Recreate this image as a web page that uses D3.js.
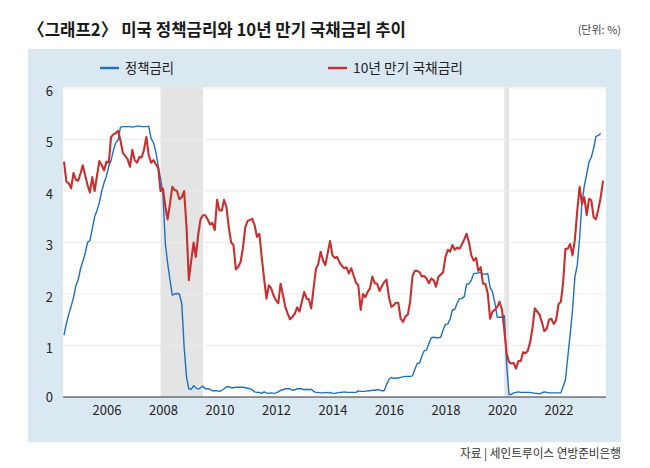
<!DOCTYPE html>
<html>
<head>
<meta charset="utf-8">
<script src="https://cdn.jsdelivr.net/npm/d3@7"></script>
<style>
  body { margin: 0; background: #fff; }
  text { font-family: "Noto Sans CJK KR", "Noto Sans", sans-serif; }
</style>
</head>
<body>
<script>
var width = 650,
    height = 468;

// monthly data, first month = July 2004
var startMonth = "2004-07-01";

// 정책금리 (Jul 2004 - Jul 2023)
var policyRate = [
  1.20, 1.43, 1.61, 1.76, 1.93, 2.16,
  2.28, 2.50, 2.63, 2.79, 3.00, 3.04, 3.26, 3.50, 3.62, 3.78, 4.00, 4.16,
  4.29, 4.49, 4.59, 4.79, 4.94, 4.99, 5.24, 5.25, 5.25, 5.25, 5.25, 5.24,
  5.25, 5.26, 5.26, 5.25, 5.25, 5.25, 5.26, 5.02, 4.94, 4.76, 4.49, 4.24,
  3.94, 2.98, 2.61, 2.28, 1.98, 2.00, 2.01, 2.00, 1.81, 0.97, 0.39, 0.16,
  0.15, 0.22, 0.18, 0.15, 0.18, 0.21, 0.16, 0.16, 0.15, 0.12, 0.12, 0.12,
  0.11, 0.13, 0.16, 0.20, 0.20, 0.18, 0.18, 0.19, 0.19, 0.19, 0.19, 0.18,
  0.17, 0.16, 0.14, 0.10, 0.09, 0.09, 0.07, 0.10, 0.08, 0.07, 0.08, 0.07,
  0.08, 0.10, 0.13, 0.14, 0.16, 0.16, 0.16, 0.13, 0.14, 0.16, 0.16, 0.16,
  0.14, 0.15, 0.14, 0.15, 0.11, 0.09, 0.09, 0.08, 0.08, 0.09, 0.08, 0.09,
  0.07, 0.07, 0.08, 0.09, 0.09, 0.10, 0.09, 0.09, 0.09, 0.09, 0.09, 0.12,
  0.11, 0.11, 0.11, 0.12, 0.12, 0.13, 0.13, 0.14, 0.14, 0.12, 0.12, 0.24,
  0.34, 0.38, 0.36, 0.37, 0.37, 0.38, 0.39, 0.40, 0.40, 0.40, 0.41, 0.54,
  0.65, 0.66, 0.79, 0.90, 0.91, 1.04, 1.15, 1.16, 1.15, 1.15, 1.16, 1.30,
  1.41, 1.42, 1.51, 1.69, 1.70, 1.82, 1.91, 1.91, 1.95, 2.19, 2.20, 2.27,
  2.40, 2.40, 2.41, 2.42, 2.39, 2.38, 2.40, 2.13, 2.04, 1.83, 1.55, 1.55,
  1.55, 1.58, 0.65, 0.05, 0.05, 0.08, 0.09, 0.10, 0.09, 0.09, 0.09, 0.09,
  0.09, 0.08, 0.07, 0.07, 0.06, 0.08, 0.10, 0.09, 0.08, 0.08, 0.08, 0.08,
  0.08, 0.08, 0.20, 0.33, 0.77, 1.21, 1.68, 2.33, 2.56, 3.08, 3.78, 4.10,
  4.33, 4.57, 4.65, 4.83, 5.06, 5.08, 5.12
];

// 10년 만기 국채금리 (Jul 2004 - Aug 2023)
var treasury10y = [
  4.57, 4.18, 4.15, 4.05, 4.35, 4.22,
  4.20, 4.35, 4.50, 4.30, 4.12, 3.97, 4.27, 4.00, 4.30, 4.58, 4.50, 4.40,
  4.57, 4.55, 5.05, 5.10, 5.12, 5.17, 4.98, 4.74, 4.68, 4.62, 4.47, 4.80,
  4.60, 4.55, 4.66, 4.65, 4.80, 5.05, 4.70, 4.55, 4.60, 4.52, 4.45, 4.00,
  4.05, 3.70, 3.45, 3.75, 4.08, 4.02, 4.00, 3.84, 3.88, 4.00, 3.30, 2.27,
  2.65, 3.00, 2.72, 3.15, 3.45, 3.53, 3.53, 3.45, 3.35, 3.38, 3.24, 3.83,
  3.62, 3.62, 3.83, 3.69, 3.30, 3.00, 2.95, 2.48, 2.53, 2.62, 2.90, 3.30,
  3.42, 3.44, 3.46, 3.33, 3.11, 3.17, 2.72, 2.30, 1.91, 2.17, 2.11, 1.97,
  1.88, 1.82, 2.20, 1.98, 1.75, 1.62, 1.51, 1.56, 1.62, 1.74, 1.66, 1.85,
  2.04, 1.91, 1.90, 1.72, 2.10, 2.49, 2.58, 2.82, 2.65, 2.56, 2.80, 3.03,
  2.75, 2.70, 2.72, 2.62, 2.55, 2.50, 2.52, 2.40, 2.50, 2.36, 2.22, 2.17,
  1.69, 2.00, 1.94, 2.04, 2.11, 2.34, 2.21, 2.20, 2.06, 2.15, 2.23, 2.28,
  1.94, 1.75, 1.78, 1.83, 1.83, 1.52, 1.46, 1.56, 1.60, 1.85, 2.35, 2.45,
  2.45, 2.42, 2.34, 2.35, 2.30, 2.21, 2.30, 2.27, 2.14, 2.33, 2.38, 2.42,
  2.72, 2.86, 2.82, 2.95, 2.86, 2.90, 2.88, 2.96, 3.06, 3.17, 3.00, 2.75,
  2.65, 2.70, 2.45, 2.52, 2.20, 2.20, 2.02, 1.52, 1.66, 1.69, 1.75, 1.85,
  1.70, 1.30, 0.85, 0.68, 0.65, 0.66, 0.55, 0.70, 0.70, 0.87, 0.85, 0.90,
  1.07, 1.36, 1.72, 1.66, 1.60, 1.45, 1.28, 1.32, 1.50, 1.52, 1.42, 1.49,
  1.80, 1.85, 2.20, 2.88, 2.88, 2.97, 2.75, 3.05, 3.62, 4.08, 3.75, 3.88,
  3.53, 3.85, 3.82, 3.49, 3.45, 3.65, 3.88, 4.20
];

var yTicks = [0, 1, 2, 3, 4, 5, 6];
var xTickYears = [2006, 2008, 2010, 2012, 2014, 2016, 2018, 2020, 2022];
var recessions = [["2007-12-01", "2009-06-01"], ["2020-02-01", "2020-04-01"]];
var seriesNames = ["정책금리", "10년 만기 국채금리"];
var title = "〈그래프2〉 미국 정책금리와 10년 만기 국채금리 추이";
var unitText = "(단위: %)";
var sourceText = "자료 | 세인트루이스 연방준비은행";

var parseDate = d3.timeParse("%Y-%m-%d");
var start = parseDate(startMonth);
function toSeries(values) {
  return values.map(function(v, i) { return { date: d3.timeMonth.offset(start, i), value: v }; });
}
var policy = toSeries(policyRate),
    treasury = toSeries(treasury10y);

var plot = { left: 63, right: 606, top: 87, bottom: 397 };

var x = d3.scaleTime()
    .domain([start, parseDate("2023-09-01")])
    .range([64, 605.5]);
var y = d3.scaleLinear().domain([0, 6]).range([397, 88]);

var svg = d3.select("body").append("svg")
    .attr("width", width)
    .attr("height", height);

// title + unit
svg.append("text")
    .attr("x", 28).attr("y", 35.5)
    .attr("font-size", 17.5)
    .attr("font-weight", 700)
    .attr("fill", "#1a1a1a")
    .attr("textLength", 378)
    .attr("lengthAdjust", "spacingAndGlyphs")
    .text(title);

svg.append("text")
    .attr("x", 621).attr("y", 34)
    .attr("text-anchor", "end")
    .attr("font-size", 11)
    .attr("fill", "#444")
    .text(unitText);

// light blue panel
svg.append("rect")
    .attr("x", 28).attr("y", 49)
    .attr("width", 593).attr("height", 393)
    .attr("fill", "#dae8f2");

// plot area
svg.append("rect")
    .attr("x", plot.left).attr("y", plot.top)
    .attr("width", plot.right - plot.left).attr("height", plot.bottom - plot.top)
    .attr("fill", "#fff");

// recession shading
svg.selectAll(".recession")
  .data(recessions)
  .enter().append("rect")
    .attr("class", "recession")
    .attr("x", function(d) { return x(parseDate(d[0])); })
    .attr("y", plot.top)
    .attr("width", function(d) { return x(parseDate(d[1])) - x(parseDate(d[0])); })
    .attr("height", plot.bottom - plot.top)
    .attr("fill", "#e4e4e4");

// gridlines
svg.selectAll(".grid")
  .data(yTicks.slice(1))
  .enter().append("line")
    .attr("class", "grid")
    .attr("x1", plot.left).attr("x2", plot.right)
    .attr("y1", function(d) { return y(d); })
    .attr("y2", function(d) { return y(d); })
    .attr("stroke", "#ececec")
    .attr("stroke-width", 1);

// y labels
var yAxis = svg.append("g")
    .attr("transform", "translate(" + plot.left + ",0)")
    .call(d3.axisLeft(y).tickValues(yTicks).tickSize(0).tickPadding(10).tickFormat(d3.format("d")));
yAxis.select(".domain").remove();
yAxis.selectAll("text")
    .attr("font-size", 13)
    .attr("fill", "#222")
    .attr("dy", function(d) { return d === 0 ? "0.32em" : "0.55em"; })
    .style("font-family", "'Noto Sans CJK KR', sans-serif");

// x labels
var xAxis = svg.append("g")
    .attr("transform", "translate(0," + plot.bottom + ")")
    .call(d3.axisBottom(x)
      .tickValues(xTickYears.map(function(yr) { return new Date(yr, 0, 1); }))
      .tickSize(0).tickPadding(9)
      .tickFormat(d3.timeFormat("%Y")));
xAxis.select(".domain").remove();
xAxis.selectAll("text")
    .attr("font-size", 13)
    .attr("fill", "#222")
    .style("font-family", "'Noto Sans CJK KR', sans-serif");

// lines
var line = d3.line()
    .x(function(d) { return x(d.date); })
    .y(function(d) { return y(d.value); });

svg.append("path")
    .datum(policy)
    .attr("fill", "none")
    .attr("stroke", "#1f6fc3")
    .attr("stroke-width", 1.4)
    .attr("stroke-linejoin", "round")
    .attr("d", line);

svg.append("path")
    .datum(treasury)
    .attr("fill", "none")
    .attr("stroke", "#c8302f")
    .attr("stroke-width", 2.1)
    .attr("stroke-linejoin", "round")
    .attr("d", line);

// baseline
svg.append("line")
    .attr("x1", plot.left).attr("x2", plot.right)
    .attr("y1", y(0)).attr("y2", y(0))
    .attr("stroke", "#333")
    .attr("stroke-width", 1);

// legend
var legendItems = [
  { name: seriesNames[0], color: "#1f6fc3", x: 100, len: 49 },
  { name: seriesNames[1], color: "#c8302f", x: 328, len: 110 }
];
var legend = svg.selectAll(".legend")
  .data(legendItems)
  .enter().append("g")
    .attr("class", "legend")
    .attr("transform", function(d) { return "translate(" + d.x + ",68)"; });
legend.append("line")
    .attr("x1", 0).attr("x2", 19)
    .attr("stroke", function(d) { return d.color; })
    .attr("stroke-width", 2.4);
legend.append("text")
    .attr("x", 25).attr("y", 5)
    .attr("font-size", 13.5)
    .attr("fill", "#222")
    .attr("textLength", function(d) { return d.len; })
    .attr("lengthAdjust", "spacingAndGlyphs")
    .text(function(d) { return d.name; });

// source
svg.append("text")
    .attr("x", 621).attr("y", 458)
    .attr("text-anchor", "end")
    .attr("font-size", 12)
    .attr("fill", "#333")
    .attr("textLength", 161)
    .attr("lengthAdjust", "spacingAndGlyphs")
    .text(sourceText);
</script>
</body>
</html>
